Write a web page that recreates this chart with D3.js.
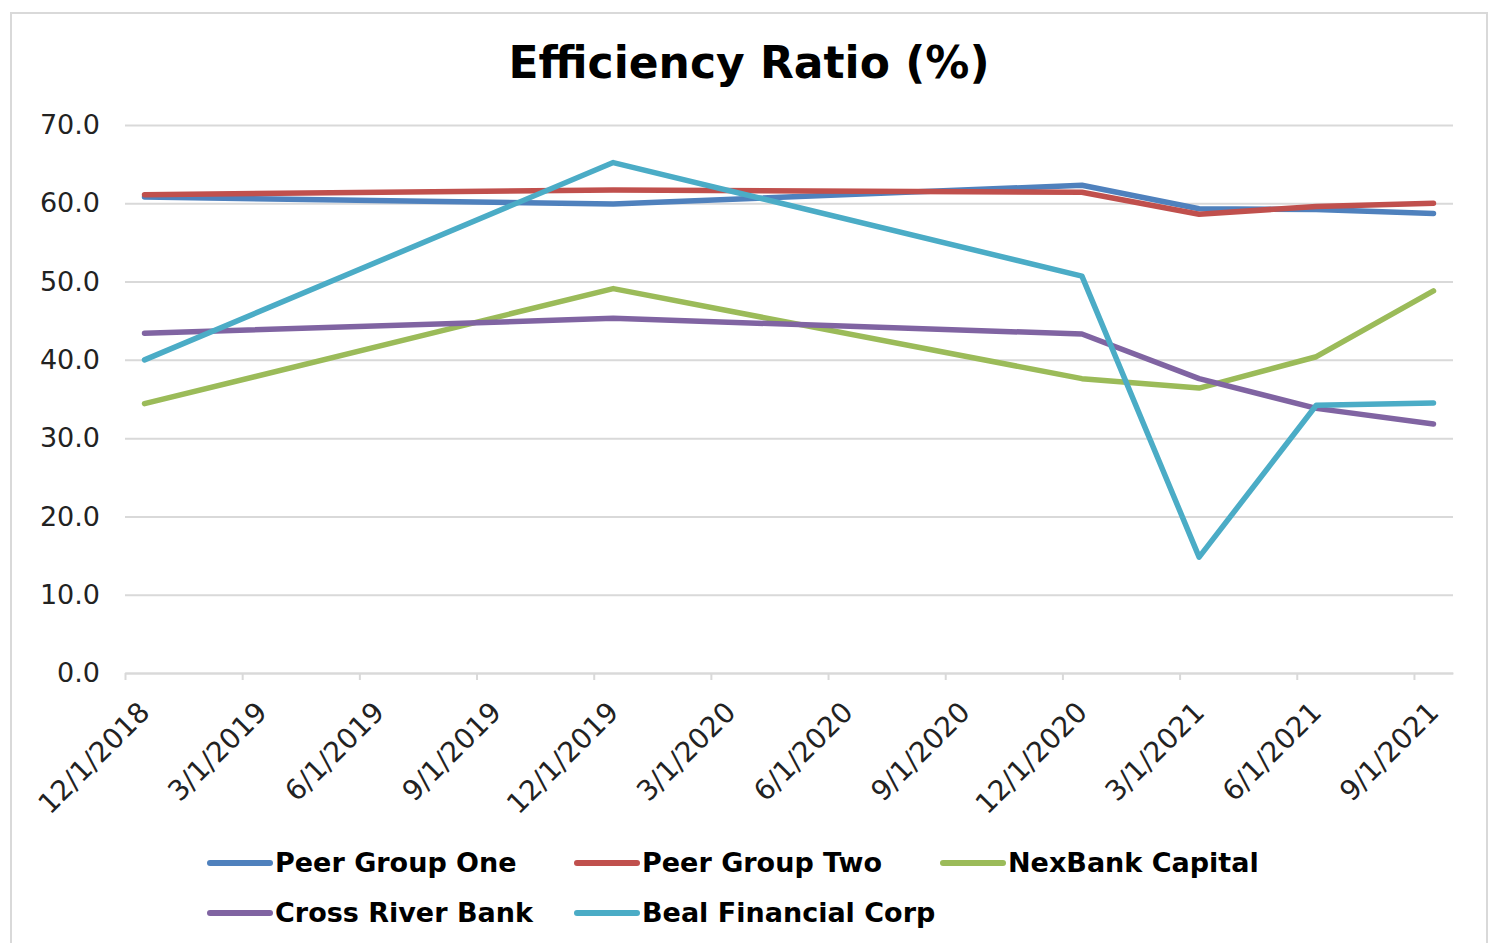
<!DOCTYPE html>
<html>
<head>
<meta charset="utf-8">
<script src="https://cdn.jsdelivr.net/npm/d3@7"></script>
<style>
  html, body { margin: 0; padding: 0; background: #fff; }
  svg { display: block; }
</style>
</head>
<body>
<div id="vis"></div>
<script>
// DATA
let dates = ['12/31/2018', '12/31/2019', '12/31/2020', '3/31/2021', '6/30/2021', '9/30/2021'];
let peerGroupOne = [60.8, 59.9, 62.3, 59.3, 59.2, 58.7];
let peerGroupTwo = [61.1, 61.7, 61.4, 58.6, 59.6, 60.0];
let nexBankCapital = [34.4, 49.1, 37.6, 36.4, 40.4, 48.8];
let crossRiverBank = [43.4, 45.3, 43.3, 37.6, 33.8, 31.8];
let bealFinancialCorp = [40.0, 65.2, 50.7, 14.8, 34.2, 34.5];
let seriesNames = ['Peer Group One', 'Peer Group Two', 'NexBank Capital', 'Cross River Bank', 'Beal Financial Corp'];
let tickLabels = ['12/1/2018', '3/1/2019', '6/1/2019', '9/1/2019', '12/1/2019', '3/1/2020',
	'6/1/2020', '9/1/2020', '12/1/2020', '3/1/2021', '6/1/2021', '9/1/2021'];
let yTicks = [0, 10, 20, 30, 40, 50, 60, 70];

let chart = () => {
	// PARAMETERS
	let width = 1494,
		height = 943,
		plot = { left: 125, right: 1453, top: 125, bottom: 673 },
		colors = ['#4F81BD', '#C0504D', '#9BBB59', '#8064A2', '#4BACC6'],
		font = '"DejaVu Sans", Verdana, sans-serif';

	let parse = d3.timeParse('%m/%d/%Y'),
		axisStart = parse(tickLabels[0]),
		monthsSpan = d3.timeMonth.count(axisStart, parse(dates[dates.length - 1])) + 1;

	// month slot index on the date axis (base unit = months)
	let monthIndex = str => d3.timeMonth.count(axisStart, d3.timeMonth.floor(parse(str)));

	let values = [peerGroupOne, peerGroupTwo, nexBankCapital, crossRiverBank, bealFinancialCorp];
	let series = seriesNames.map((name, s) => ({
		name: name,
		color: colors[s],
		points: dates.map((d, i) => ({ m: monthIndex(d), v: values[s][i] }))
	}));

	// SCALES
	let x = d3.scaleLinear().domain([0, monthsSpan]).range([plot.left, plot.right]),
		y = d3.scaleLinear().domain([0, 70]).range([plot.bottom, plot.top]);

	let svg = d3.select('#vis')
		.append('svg')
		.attr('width', width)
		.attr('height', height);

	// FRAME
	svg.append('rect')
		.attr('x', 11)
		.attr('y', 13)
		.attr('width', 1476)
		.attr('height', 960)
		.attr('fill', '#fff')
		.attr('stroke', '#d9d9d9')
		.attr('stroke-width', 2);

	// TITLE
	svg.append('text')
		.attr('x', 749)
		.attr('y', 78)
		.attr('text-anchor', 'middle')
		.attr('font-family', font)
		.attr('font-weight', 'bold')
		.attr('font-size', 44)
		.attr('fill', '#000')
		.text('Efficiency Ratio (%)');

	// GRID + Y AXIS
	let yAxis = d3.axisLeft(y)
		.tickValues(yTicks)
		.tickSize(-(plot.right - plot.left))
		.tickPadding(25)
		.tickFormat(d3.format('.1f'));

	let gy = svg.append('g')
		.attr('transform', `translate(${plot.left}, 0)`)
		.call(yAxis);
	gy.select('.domain').remove();
	gy.selectAll('line').attr('stroke', '#d9d9d9').attr('stroke-width', 2);
	gy.selectAll('text')
		.attr('font-family', font)
		.attr('font-size', 27)
		.attr('fill', '#222');

	// X AXIS
	let xAxis = d3.axisBottom(x)
		.tickValues(tickLabels.map(monthIndex))
		.tickSize(7)
		.tickSizeOuter(0)
		.tickFormat((d, i) => tickLabels[i]);

	let gx = svg.append('g')
		.attr('transform', `translate(0, ${plot.bottom})`)
		.call(xAxis);
	gx.select('.domain').attr('stroke', '#d9d9d9').attr('stroke-width', 2);
	gx.selectAll('line').attr('stroke', '#d9d9d9').attr('stroke-width', 2);
	gx.selectAll('text')
		.attr('font-family', font)
		.attr('font-size', 28)
		.attr('fill', '#222')
		.attr('text-anchor', 'end')
		.attr('x', 0)
		.attr('y', 0)
		.attr('dy', '0.35em')
		.attr('transform', 'translate(19, 34) rotate(-45)');

	// LINES
	let line = d3.line()
		.x(d => x(d.m + 0.5))
		.y(d => y(d.v));

	svg.append('g')
		.selectAll('path')
		.data(series)
		.enter()
		.append('path')
		.attr('d', d => line(d.points))
		.attr('fill', 'none')
		.attr('stroke', d => d.color)
		.attr('stroke-width', 5.5)
		.attr('stroke-linecap', 'round')
		.attr('stroke-linejoin', 'round');

	// LEGEND
	let legendPos = [[208, 863], [575, 863], [941, 863], [208, 913], [575, 913]];

	let legend = svg.append('g')
		.selectAll('g')
		.data(series)
		.enter()
		.append('g')
		.attr('transform', (d, i) => `translate(${legendPos[i][0]}, ${legendPos[i][1]})`);

	legend.append('line')
		.attr('x1', 2)
		.attr('x2', 62)
		.attr('stroke', d => d.color)
		.attr('stroke-width', 6)
		.attr('stroke-linecap', 'round');

	legend.append('text')
		.attr('x', 67)
		.attr('y', 9)
		.attr('font-family', font)
		.attr('font-weight', 'bold')
		.attr('font-size', 27)
		.attr('fill', '#000')
		.text(d => d.name);
};

chart();
</script>
</body>
</html>
